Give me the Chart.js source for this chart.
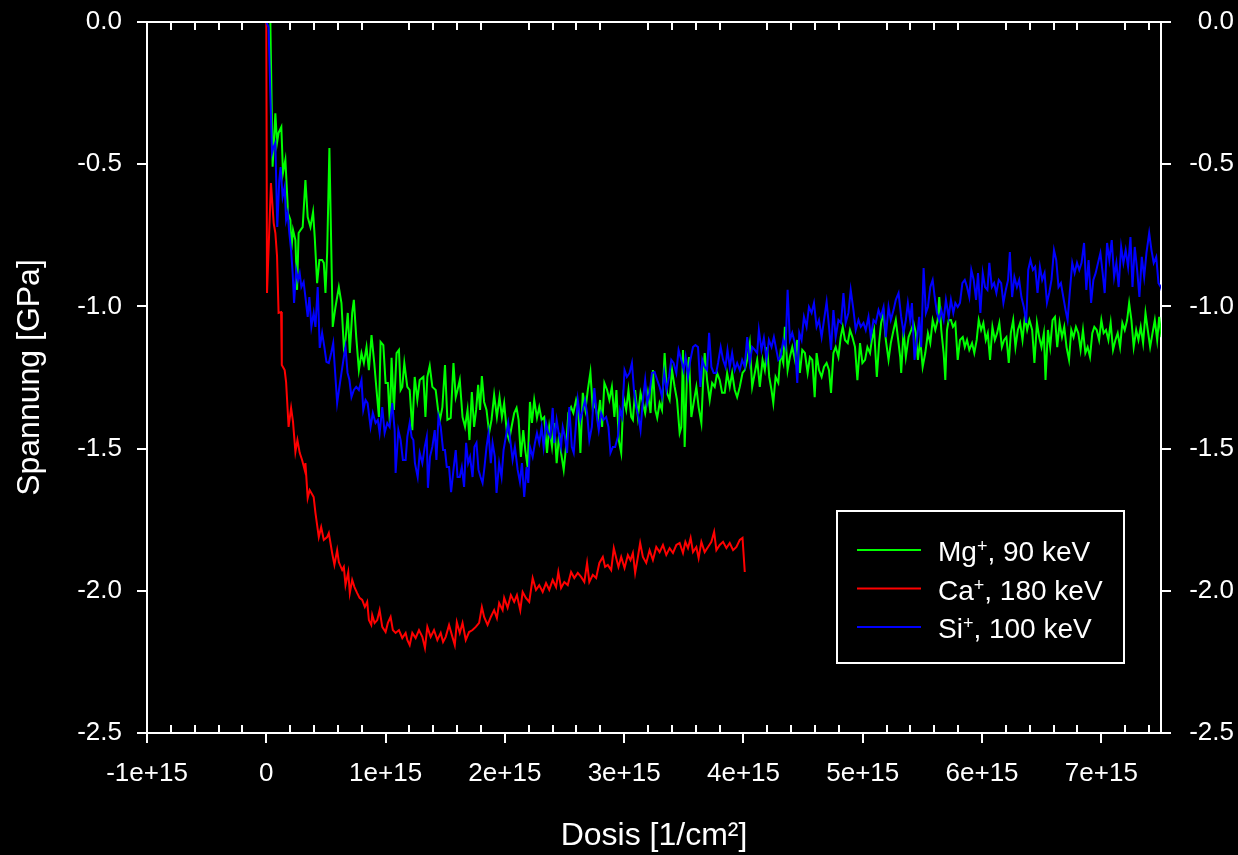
<!DOCTYPE html>
<html>
<head>
<meta charset="utf-8">
<title>Spannung vs. Dosis</title>
<script src="https://cdn.jsdelivr.net/npm/chart.js@4/dist/chart.umd.min.js"></script>
<style>
  html, body { margin: 0; padding: 0; background: #000; }
  #wrap { position: relative; width: 1238px; height: 855px; }
</style>
</head>
<body>
<div id="wrap"><canvas id="stressChart"></canvas></div>
<script>
// dose values below are given in units of 1e15 / cm^2
const DOSE_UNIT = 1e15;
const xTickValues = [-1, 0, 1, 2, 3, 4, 5, 6, 7];
const yTickValues = [0, -0.5, -1, -1.5, -2, -2.5];

const seriesLabels = ['Mg+, 90 keV', 'Ca+, 180 keV', 'Si+, 100 keV'];
const seriesIons = ['Mg', 'Ca', 'Si'];
const seriesEnergies = [', 90 keV', ', 180 keV', ', 100 keV'];
const seriesColors = ['#00ff00', '#ff0000', '#0000ff'];

// [dose, stress in GPa]
const mgData = [
  [0.034,0],[0.053,-0.509],[0.076,-0.321],[0.090,-0.425],[0.103,-0.390],[0.126,-0.369],[0.140,-0.531],[0.160,-0.485],[0.174,-0.601],[0.182,-0.672],
  [0.202,-0.696],[0.210,-0.802],[0.224,-0.731],[0.244,-0.767],[0.258,-0.942],[0.271,-0.742],[0.288,-0.731],[0.305,-0.721],[0.328,-0.556],[0.347,-0.686],
  [0.370,-0.721],[0.392,-0.668],[0.406,-0.756],[0.426,-0.918],[0.445,-0.837],[0.468,-0.837],[0.482,-0.847],[0.496,-0.953],[0.510,-0.812],[0.529,-0.443],
  [0.557,-1.072],[0.580,-1.002],[0.608,-0.932],[0.630,-0.988],[0.650,-1.143],[0.664,-1.118],[0.683,-1.023],[0.700,-1.164],[0.720,-1.023],[0.734,-0.977],
  [0.754,-1.108],[0.776,-1.224],[0.798,-1.164],[0.818,-1.199],[0.840,-1.143],[0.860,-1.224],[0.882,-1.101],[0.905,-1.199],[0.924,-1.294],[0.944,-1.389],
  [0.958,-1.125],[0.981,-1.136],[1.000,-1.269],[1.019,-1.269],[1.036,-1.410],[1.050,-1.181],[1.070,-1.364],[1.092,-1.164],[1.112,-1.153],[1.126,-1.294],
  [1.140,-1.283],[1.157,-1.199],[1.182,-1.283],[1.202,-1.294],[1.224,-1.435],[1.244,-1.248],[1.266,-1.329],[1.286,-1.259],[1.317,-1.248],[1.334,-1.389],
  [1.350,-1.248],[1.370,-1.209],[1.392,-1.283],[1.420,-1.294],[1.440,-1.364],[1.456,-1.399],[1.476,-1.354],[1.498,-1.206],[1.518,-1.399],[1.546,-1.392],
  [1.569,-1.199],[1.588,-1.319],[1.603,-1.294],[1.622,-1.259],[1.645,-1.389],[1.666,-1.424],[1.687,-1.364],[1.703,-1.470],[1.723,-1.301],[1.742,-1.424],
  [1.759,-1.364],[1.776,-1.276],[1.792,-1.364],[1.807,-1.245],[1.826,-1.336],[1.846,-1.364],[1.868,-1.445],[1.888,-1.399],[1.910,-1.311],[1.933,-1.389],
  [1.955,-1.319],[1.975,-1.389],[1.994,-1.340],[2.017,-1.445],[2.036,-1.470],[2.056,-1.424],[2.078,-1.375],[2.098,-1.357],[2.115,-1.399],[2.134,-1.529],
  [2.154,-1.435],[2.171,-1.505],[2.191,-1.565],[2.210,-1.336],[2.227,-1.410],[2.246,-1.329],[2.269,-1.392],[2.288,-1.354],[2.308,-1.399],[2.330,-1.389],
  [2.353,-1.515],[2.372,-1.424],[2.395,-1.494],[2.414,-1.410],[2.434,-1.551],[2.456,-1.445],[2.471,-1.515],[2.493,-1.575],[2.513,-1.494],[2.532,-1.375],
  [2.555,-1.354],[2.574,-1.375],[2.597,-1.329],[2.616,-1.364],[2.633,-1.515],[2.653,-1.304],[2.675,-1.364],[2.695,-1.294],[2.717,-1.231],[2.737,-1.364],
  [2.756,-1.340],[2.779,-1.399],[2.798,-1.329],[2.815,-1.424],[2.834,-1.269],[2.857,-1.294],[2.876,-1.329],[2.897,-1.283],[2.918,-1.389],[2.935,-1.294],
  [2.955,-1.470],[2.975,-1.515],[2.994,-1.319],[3.017,-1.364],[3.036,-1.294],[3.059,-1.389],[3.073,-1.399],[3.092,-1.294],[3.115,-1.389],[3.137,-1.304],
  [3.157,-1.340],[3.176,-1.375],[3.199,-1.304],[3.221,-1.375],[3.241,-1.224],[3.261,-1.364],[3.277,-1.392],[3.297,-1.340],[3.317,-1.364],[3.339,-1.164],
  [3.359,-1.304],[3.381,-1.329],[3.401,-1.224],[3.423,-1.283],[3.443,-1.329],[3.465,-1.445],[3.479,-1.424],[3.493,-1.153],[3.507,-1.494],[3.527,-1.234],
  [3.544,-1.178],[3.563,-1.389],[3.582,-1.340],[3.605,-1.283],[3.624,-1.354],[3.647,-1.410],[3.661,-1.269],[3.675,-1.164],[3.695,-1.259],[3.717,-1.329],
  [3.737,-1.269],[3.759,-1.283],[3.779,-1.234],[3.801,-1.259],[3.821,-1.304],[3.843,-1.304],[3.863,-1.234],[3.885,-1.283],[3.905,-1.234],[3.927,-1.294],
  [3.947,-1.319],[3.969,-1.283],[3.992,-1.234],[4.011,-1.224],[4.031,-1.188],[4.053,-1.129],[4.073,-1.283],[4.095,-1.234],[4.115,-1.188],[4.137,-1.283],
  [4.160,-1.188],[4.179,-1.224],[4.199,-1.143],[4.216,-1.248],[4.235,-1.294],[4.250,-1.340],[4.269,-1.248],[4.292,-1.269],[4.311,-1.164],[4.334,-1.199],
  [4.347,-1.072],[4.370,-1.224],[4.389,-1.178],[4.409,-1.143],[4.431,-1.188],[4.451,-1.118],[4.473,-1.234],[4.493,-1.153],[4.515,-1.164],[4.538,-1.234],
  [4.557,-1.178],[4.577,-1.188],[4.597,-1.319],[4.613,-1.164],[4.633,-1.224],[4.655,-1.248],[4.675,-1.213],[4.697,-1.199],[4.717,-1.224],[4.734,-1.304],
  [4.754,-1.164],[4.773,-1.143],[4.796,-1.178],[4.815,-1.108],[4.832,-1.072],[4.851,-1.118],[4.874,-1.129],[4.893,-1.083],[4.913,-1.108],[4.935,-1.143],
  [4.955,-1.259],[4.977,-1.129],[4.997,-1.199],[5.019,-1.188],[5.039,-1.143],[5.061,-1.164],[5.076,-1.118],[5.095,-1.083],[5.118,-1.248],[5.137,-1.129],
  [5.154,-1.058],[5.174,-1.023],[5.193,-1.118],[5.216,-1.188],[5.235,-1.129],[5.258,-1.083],[5.277,-1.048],[5.300,-1.129],[5.314,-1.178],[5.322,-1.234],
  [5.342,-1.083],[5.361,-1.178],[5.384,-1.108],[5.406,-1.083],[5.426,-1.058],[5.445,-1.094],[5.462,-1.188],[5.482,-1.118],[5.502,-1.213],[5.524,-1.164],
  [5.546,-1.094],[5.566,-1.129],[5.586,-1.048],[5.608,-1.083],[5.628,-1.048],[5.641,-0.967],[5.658,-1.083],[5.678,-1.164],[5.692,-1.259],[5.706,-1.083],
  [5.720,-1.048],[5.739,-1.048],[5.756,-1.072],[5.776,-1.058],[5.796,-1.188],[5.815,-1.118],[5.838,-1.108],[5.855,-1.143],[5.874,-1.118],[5.893,-1.153],
  [5.916,-1.129],[5.935,-1.164],[5.955,-1.118],[5.972,-1.048],[5.992,-1.083],[6.011,-1.058],[6.031,-1.118],[6.048,-1.094],[6.067,-1.188],[6.087,-1.072],
  [6.107,-1.118],[6.126,-1.094],[6.145,-1.058],[6.166,-1.143],[6.185,-1.118],[6.204,-1.108],[6.224,-1.199],[6.241,-1.094],[6.261,-1.048],[6.280,-1.143],
  [6.300,-1.083],[6.319,-1.058],[6.339,-1.118],[6.359,-1.037],[6.378,-1.083],[6.397,-1.048],[6.420,-1.083],[6.439,-1.199],[6.460,-1.058],[6.479,-1.108],
  [6.498,-1.143],[6.518,-1.094],[6.532,-1.259],[6.552,-1.083],[6.571,-1.143],[6.591,-1.048],[6.611,-1.037],[6.630,-1.143],[6.650,-1.058],[6.670,-1.108],
  [6.689,-1.072],[6.708,-1.143],[6.729,-1.188],[6.748,-1.083],[6.767,-1.108],[6.787,-1.072],[6.807,-1.094],[6.826,-1.153],[6.846,-1.083],[6.866,-1.164],
  [6.885,-1.143],[6.905,-1.178],[6.924,-1.094],[6.941,-1.072],[6.961,-1.083],[6.981,-1.118],[7.000,-1.048],[7.019,-1.094],[7.039,-1.083],[7.059,-1.118],
  [7.078,-1.058],[7.098,-1.153],[7.118,-1.118],[7.137,-1.094],[7.157,-1.143],[7.176,-1.058],[7.196,-1.083],[7.216,-1.048],[7.233,-0.988],[7.252,-1.048],
  [7.271,-1.143],[7.292,-1.083],[7.311,-1.118],[7.330,-1.072],[7.350,-1.129],[7.370,-1.023],[7.389,-1.083],[7.409,-1.143],[7.429,-1.094],[7.448,-1.048],
  [7.468,-1.118],[7.485,-1.037],[7.504,-1.108],[7.518,-1.118]
];

const caData = [
  [0,0],[0.006,-0.953],[0.039,-0.566],[0.062,-0.707],[0.076,-0.742],[0.090,-0.823],[0.103,-1.023],[0.124,-1.020],[0.130,-1.206],[0.154,-1.224],
  [0.166,-1.266],[0.187,-1.424],[0.208,-1.357],[0.224,-1.406],[0.244,-1.512],[0.261,-1.470],[0.280,-1.515],[0.300,-1.540],[0.322,-1.575],[0.328,-1.551],
  [0.347,-1.674],[0.364,-1.646],[0.397,-1.670],[0.412,-1.726],[0.440,-1.811],[0.460,-1.776],[0.482,-1.821],[0.510,-1.811],[0.524,-1.797],[0.552,-1.867],
  [0.571,-1.909],[0.594,-1.857],[0.608,-1.899],[0.636,-1.927],[0.650,-1.916],[0.664,-1.980],[0.687,-1.934],[0.700,-2.008],[0.720,-1.962],[0.739,-1.987],
  [0.762,-2.008],[0.782,-2.025],[0.804,-2.032],[0.826,-2.057],[0.846,-2.039],[0.860,-2.103],[0.880,-2.120],[0.888,-2.085],[0.908,-2.113],[0.930,-2.103],
  [0.950,-2.068],[0.972,-2.127],[1.000,-2.145],[1.019,-2.113],[1.042,-2.092],[1.061,-2.138],[1.084,-2.148],[1.112,-2.138],[1.140,-2.166],[1.168,-2.148],
  [1.182,-2.173],[1.202,-2.191],[1.224,-2.148],[1.252,-2.166],[1.280,-2.138],[1.308,-2.162],[1.330,-2.201],[1.350,-2.127],[1.378,-2.162],[1.406,-2.138],
  [1.434,-2.173],[1.462,-2.148],[1.482,-2.180],[1.504,-2.162],[1.532,-2.120],[1.560,-2.162],[1.580,-2.191],[1.597,-2.110],[1.622,-2.148],[1.645,-2.113],
  [1.672,-2.173],[1.700,-2.145],[1.729,-2.138],[1.756,-2.127],[1.784,-2.113],[1.807,-2.057],[1.826,-2.092],[1.855,-2.120],[1.882,-2.092],[1.910,-2.068],
  [1.933,-2.096],[1.952,-2.043],[1.981,-2.068],[1.994,-2.025],[2.023,-2.060],[2.050,-2.015],[2.078,-2.039],[2.101,-2.015],[2.129,-2.068],[2.149,-2.004],
  [2.176,-2.025],[2.204,-2.039],[2.233,-1.955],[2.261,-1.997],[2.288,-1.980],[2.317,-2.004],[2.345,-1.973],[2.372,-1.997],[2.401,-1.962],[2.429,-1.987],
  [2.448,-1.934],[2.471,-1.990],[2.498,-1.969],[2.527,-1.980],[2.555,-1.934],[2.582,-1.955],[2.611,-1.937],[2.639,-1.951],[2.666,-1.969],[2.689,-1.902],
  [2.708,-1.969],[2.737,-1.944],[2.765,-1.955],[2.792,-1.902],[2.821,-1.881],[2.840,-1.916],[2.863,-1.909],[2.891,-1.927],[2.913,-1.850],[2.933,-1.885],
  [2.952,-1.916],[2.975,-1.881],[3.003,-1.920],[3.031,-1.874],[3.053,-1.892],[3.073,-1.867],[3.092,-1.937],[3.115,-1.881],[3.134,-1.832],[3.157,-1.881],
  [3.185,-1.902],[3.213,-1.857],[3.241,-1.892],[3.269,-1.846],[3.297,-1.864],[3.325,-1.839],[3.353,-1.874],[3.381,-1.850],[3.409,-1.867],[3.437,-1.839],
  [3.465,-1.832],[3.493,-1.867],[3.513,-1.828],[3.535,-1.850],[3.557,-1.814],[3.577,-1.864],[3.605,-1.846],[3.624,-1.885],[3.647,-1.828],[3.675,-1.864],
  [3.703,-1.846],[3.731,-1.828],[3.754,-1.793],[3.773,-1.857],[3.801,-1.839],[3.829,-1.828],[3.857,-1.850],[3.885,-1.832],[3.913,-1.857],[3.941,-1.846],
  [3.969,-1.821],[3.992,-1.814],[4.011,-1.934]
];

const siData = [
  [0,0],[0.019,-0.018],[0.034,-0.250],[0.048,-0.461],[0.061,-0.440],[0.076,-0.425],[0.092,-0.721],[0.109,-0.556],[0.120,-0.510],[0.137,-0.615],
  [0.154,-0.580],[0.166,-0.696],[0.179,-0.672],[0.193,-0.742],[0.208,-0.802],[0.221,-0.883],[0.233,-0.988],[0.250,-0.872],[0.266,-0.907],[0.280,-0.883],
  [0.294,-0.932],[0.313,-0.914],[0.328,-0.967],[0.347,-1.037],[0.361,-0.967],[0.378,-1.072],[0.397,-1.023],[0.412,-1.072],[0.431,-0.932],[0.448,-1.146],
  [0.468,-1.093],[0.487,-1.143],[0.504,-1.195],[0.524,-1.199],[0.544,-1.164],[0.561,-1.129],[0.574,-1.213],[0.594,-1.340],[0.613,-1.283],[0.630,-1.234],
  [0.650,-1.178],[0.664,-1.143],[0.681,-1.234],[0.697,-1.259],[0.714,-1.319],[0.734,-1.294],[0.754,-1.283],[0.776,-1.294],[0.798,-1.259],[0.813,-1.364],
  [0.832,-1.329],[0.849,-1.340],[0.874,-1.424],[0.893,-1.375],[0.916,-1.410],[0.935,-1.399],[0.950,-1.445],[0.972,-1.354],[0.992,-1.445],[1.014,-1.410],
  [1.034,-1.424],[1.056,-1.340],[1.076,-1.435],[1.084,-1.586],[1.107,-1.435],[1.126,-1.470],[1.145,-1.540],[1.168,-1.540],[1.182,-1.459],[1.202,-1.410],
  [1.218,-1.459],[1.233,-1.470],[1.246,-1.551],[1.269,-1.600],[1.286,-1.515],[1.308,-1.551],[1.328,-1.494],[1.345,-1.459],[1.355,-1.638],[1.372,-1.529],
  [1.392,-1.494],[1.412,-1.435],[1.426,-1.540],[1.443,-1.389],[1.462,-1.424],[1.482,-1.505],[1.498,-1.505],[1.513,-1.565],[1.532,-1.565],[1.549,-1.653],
  [1.569,-1.575],[1.588,-1.505],[1.603,-1.600],[1.622,-1.600],[1.639,-1.565],[1.658,-1.635],[1.675,-1.480],[1.692,-1.551],[1.708,-1.529],[1.729,-1.600],
  [1.745,-1.494],[1.762,-1.480],[1.779,-1.575],[1.796,-1.600],[1.813,-1.621],[1.829,-1.565],[1.846,-1.494],[1.863,-1.445],[1.882,-1.551],[1.897,-1.480],
  [1.916,-1.529],[1.930,-1.656],[1.952,-1.551],[1.972,-1.600],[1.989,-1.505],[2.003,-1.470],[2.028,-1.410],[2.045,-1.470],[2.065,-1.540],[2.084,-1.494],
  [2.107,-1.575],[2.126,-1.617],[2.143,-1.551],[2.162,-1.670],[2.182,-1.565],[2.196,-1.621],[2.210,-1.494],[2.233,-1.529],[2.252,-1.480],[2.269,-1.445],
  [2.288,-1.480],[2.308,-1.424],[2.325,-1.494],[2.345,-1.410],[2.364,-1.445],[2.381,-1.459],[2.401,-1.357],[2.414,-1.480],[2.434,-1.399],[2.451,-1.445],
  [2.471,-1.494],[2.485,-1.424],[2.504,-1.459],[2.521,-1.515],[2.540,-1.354],[2.561,-1.494],[2.577,-1.515],[2.597,-1.410],[2.611,-1.329],[2.633,-1.399],
  [2.653,-1.364],[2.672,-1.329],[2.689,-1.375],[2.708,-1.470],[2.729,-1.424],[2.750,-1.287],[2.771,-1.389],[2.787,-1.435],[2.807,-1.375],[2.826,-1.399],
  [2.849,-1.389],[2.868,-1.424],[2.885,-1.515],[2.905,-1.494],[2.924,-1.494],[2.947,-1.459],[2.966,-1.364],[2.983,-1.389],[3.003,-1.224],[3.023,-1.248],
  [3.045,-1.234],[3.065,-1.199],[3.082,-1.294],[3.101,-1.354],[3.120,-1.389],[3.137,-1.435],[3.157,-1.329],[3.176,-1.259],[3.193,-1.340],[3.213,-1.304],
  [3.233,-1.234],[3.255,-1.231],[3.277,-1.259],[3.297,-1.283],[3.317,-1.319],[3.336,-1.234],[3.355,-1.294],[3.376,-1.248],[3.395,-1.188],[3.414,-1.199],
  [3.437,-1.234],[3.456,-1.153],[3.479,-1.188],[3.498,-1.224],[3.515,-1.178],[3.535,-1.248],[3.555,-1.188],[3.577,-1.143],[3.597,-1.136],[3.619,-1.143],
  [3.639,-1.283],[3.655,-1.188],[3.675,-1.213],[3.695,-1.224],[3.712,-1.093],[3.731,-1.213],[3.750,-1.234],[3.771,-1.234],[3.787,-1.199],[3.809,-1.143],
  [3.829,-1.188],[3.849,-1.213],[3.866,-1.153],[3.885,-1.213],[3.905,-1.164],[3.927,-1.224],[3.947,-1.199],[3.969,-1.224],[3.989,-1.188],[4.011,-1.213],
  [4.031,-1.108],[4.053,-1.199],[4.073,-1.143],[4.095,-1.153],[4.115,-1.164],[4.129,-1.083],[4.151,-1.153],[4.171,-1.111],[4.193,-1.188],[4.213,-1.118],
  [4.235,-1.143],[4.255,-1.108],[4.271,-1.143],[4.292,-1.188],[4.311,-1.178],[4.334,-1.118],[4.353,-1.143],[4.370,-0.942],[4.389,-1.118],[4.409,-1.093],
  [4.431,-1.129],[4.451,-1.269],[4.468,-1.093],[4.487,-1.118],[4.507,-1.037],[4.529,-1.072],[4.549,-1.002],[4.571,-1.023],[4.591,-0.988],[4.613,-1.072],
  [4.633,-1.048],[4.655,-1.108],[4.675,-1.048],[4.697,-0.984],[4.717,-1.072],[4.734,-1.153],[4.754,-1.013],[4.773,-1.108],[4.796,-1.048],[4.818,-1.058],
  [4.838,-0.953],[4.857,-1.058],[4.880,-1.023],[4.899,-0.942],[4.922,-1.013],[4.941,-1.083],[4.964,-1.048],[4.983,-1.072],[5.006,-1.058],[5.025,-1.083],
  [5.048,-1.037],[5.067,-1.108],[5.090,-1.048],[5.109,-1.058],[5.132,-1.013],[5.151,-1.037],[5.174,-1.002],[5.193,-1.108],[5.216,-1.002],[5.235,-1.048],
  [5.258,-1.013],[5.277,-0.977],[5.300,-0.953],[5.322,-1.037],[5.342,-1.093],[5.361,-1.048],[5.378,-0.988],[5.397,-1.048],[5.412,-0.988],[5.434,-1.188],
  [5.454,-1.118],[5.473,-1.037],[5.490,-1.143],[5.510,-0.865],[5.529,-1.023],[5.546,-1.002],[5.566,-0.932],[5.586,-0.907],[5.603,-0.967],[5.622,-1.023],
  [5.641,-1.048],[5.658,-1.013],[5.678,-1.048],[5.697,-0.977],[5.720,-1.037],[5.739,-0.977],[5.759,-1.023],[5.776,-0.988],[5.796,-1.002],[5.815,-0.988],
  [5.835,-0.918],[5.855,-0.907],[5.874,-0.932],[5.893,-0.967],[5.910,-0.872],[5.930,-0.907],[5.950,-0.977],[5.966,-0.883],[5.986,-1.023],[6.006,-0.883],
  [6.025,-0.932],[6.045,-0.942],[6.061,-0.847],[6.082,-0.932],[6.101,-0.918],[6.120,-0.953],[6.140,-0.907],[6.160,-0.918],[6.179,-0.988],[6.199,-0.942],
  [6.218,-0.907],[6.233,-0.809],[6.252,-0.967],[6.271,-0.897],[6.292,-0.932],[6.311,-0.907],[6.330,-0.967],[6.350,-1.002],[6.370,-1.058],[6.387,-0.872],
  [6.406,-0.837],[6.426,-0.872],[6.445,-0.861],[6.465,-0.953],[6.485,-0.861],[6.504,-0.907],[6.524,-0.883],[6.544,-0.988],[6.563,-0.953],[6.582,-0.907],
  [6.603,-0.802],[6.622,-0.837],[6.641,-0.932],[6.661,-0.918],[6.681,-0.967],[6.700,-1.013],[6.717,-1.048],[6.737,-0.942],[6.756,-0.847],[6.776,-0.883],
  [6.796,-0.847],[6.815,-0.872],[6.834,-0.847],[6.855,-0.777],[6.874,-0.942],[6.893,-0.837],[6.914,-0.988],[6.933,-0.907],[6.952,-0.883],[6.972,-0.847],
  [6.992,-0.812],[7.011,-0.883],[7.028,-0.953],[7.048,-0.777],[7.067,-0.837],[7.087,-0.767],[7.107,-0.897],[7.126,-0.847],[7.145,-0.932],[7.166,-0.791],
  [7.185,-0.847],[7.204,-0.802],[7.224,-0.861],[7.244,-0.756],[7.261,-0.932],[7.280,-0.791],[7.300,-0.872],[7.319,-0.967],[7.339,-0.826],[7.359,-0.897],
  [7.378,-0.812],[7.401,-0.742],[7.420,-0.802],[7.439,-0.847],[7.460,-0.826],[7.479,-0.918],[7.498,-0.932],[7.513,-0.953],[7.524,-0.977]
];

const FONT = "'Liberation Sans', Arial, sans-serif";
Chart.defaults.font.family = FONT;
Chart.defaults.color = '#fff';

function toPoints(rows) {
  return rows.map(r => ({ x: r[0] * DOSE_UNIT, y: r[1] }));
}

// white frame on top, minor x ticks pointing inwards, boxed legend with superscripts
const framePlugin = {
  id: 'frame',
  afterDraw(chart) {
    const { ctx, chartArea: a } = chart;
    const xs = chart.scales.x;
    ctx.save();
    ctx.strokeStyle = '#fff';
    ctx.lineWidth = 2;
    ctx.beginPath();
    ctx.moveTo(a.left, a.top);
    ctx.lineTo(a.right + 1, a.top);
    for (let i = -8; i <= 74; i += 2) {
      if (i % 10 === 0) continue;
      const px = Math.round(xs.getPixelForValue(i / 10 * DOSE_UNIT));
      ctx.moveTo(px, a.bottom);
      ctx.lineTo(px, a.bottom - 8);
      ctx.moveTo(px, a.top);
      ctx.lineTo(px, a.top + 8);
    }
    ctx.stroke();

    // legend
    const lx = a.right - 324, ly = a.top + 489;
    ctx.strokeRect(lx, ly, 287, 152);
    seriesIons.forEach((ion, i) => {
      const y = ly + 39 + i * 38.5;
      ctx.strokeStyle = seriesColors[i];
      ctx.beginPath();
      ctx.moveTo(lx + 20, y);
      ctx.lineTo(lx + 84, y);
      ctx.stroke();
      ctx.fillStyle = '#fff';
      ctx.textAlign = 'left';
      ctx.textBaseline = 'alphabetic';
      let tx = lx + 101;
      ctx.font = '28px ' + FONT;
      ctx.fillText(ion, tx, y + 11);
      tx += ctx.measureText(ion).width;
      ctx.font = '18px ' + FONT;
      ctx.fillText('+', tx, y + 2);
      tx += ctx.measureText('+').width;
      ctx.font = '28px ' + FONT;
      ctx.fillText(seriesEnergies[i], tx, y + 11);
    });
    ctx.restore();
  }
};

const axisGrid = { display: true, drawOnChartArea: false, drawTicks: true, tickLength: 10, color: '#fff', lineWidth: 2 };
const axisBorder = { display: true, color: '#fff', width: 2 };
const tickFont = { size: 26 };

function fitY(width) {
  return s => { s.width = width; s.paddingTop = 0; s.paddingBottom = 0; };
}

const stressChart = new Chart(document.getElementById('stressChart'), {
  type: 'scatter',
  data: {
    datasets: [
      { label: seriesLabels[0], data: toPoints(mgData), borderColor: seriesColors[0], order: 3 },
      { label: seriesLabels[1], data: toPoints(caData), borderColor: seriesColors[1], order: 2 },
      { label: seriesLabels[2], data: toPoints(siData), borderColor: seriesColors[2], order: 1 }
    ]
  },
  options: {
    responsive: true,
    maintainAspectRatio: false,
    animation: false,
    layout: { padding: { top: 22, right: 4, bottom: 0, left: 0 } },
    datasets: {
      scatter: { showLine: true, pointRadius: 0, borderWidth: 2, tension: 0 }
    },
    plugins: {
      legend: { display: false },
      tooltip: { enabled: false }
    },
    scales: {
      x: {
        type: 'linear',
        position: 'bottom',
        min: -1 * DOSE_UNIT,
        max: 7.5 * DOSE_UNIT,
        afterBuildTicks: s => { s.ticks = xTickValues.map(v => ({ value: v * DOSE_UNIT })); },
        afterFit: s => { s.height = 122; s.paddingLeft = 0; s.paddingRight = 0; },
        ticks: {
          color: '#fff', font: tickFont, padding: 15, maxRotation: 0, autoSkip: false,
          callback: v => v === 0 ? '0' : v.toExponential()
        },
        grid: axisGrid,
        border: axisBorder,
        title: { display: true, text: 'Dosis [1/cm²]', color: '#fff', font: { size: 32 }, padding: { top: 0, bottom: 0 } }
      },
      y: {
        type: 'linear',
        position: 'left',
        min: -2.5,
        max: 0,
        afterBuildTicks: s => { s.ticks = yTickValues.map(v => ({ value: v })); },
        afterFit: fitY(147),
        ticks: { color: '#fff', font: tickFont, padding: 15, callback: v => v.toFixed(1) },
        grid: axisGrid,
        border: axisBorder,
        title: { display: true, text: 'Spannung [GPa]', color: '#fff', font: { size: 32 }, padding: { top: 11, bottom: 0 } }
      },
      y2: {
        type: 'linear',
        position: 'right',
        min: -2.5,
        max: 0,
        afterBuildTicks: s => { s.ticks = yTickValues.map(v => ({ value: v })); },
        afterFit: fitY(73),
        ticks: { color: '#fff', font: tickFont, padding: 12, crossAlign: 'far', callback: v => v.toFixed(1) },
        grid: axisGrid,
        border: axisBorder
      }
    }
  },
  plugins: [framePlugin]
});
</script>
</body>
</html>
